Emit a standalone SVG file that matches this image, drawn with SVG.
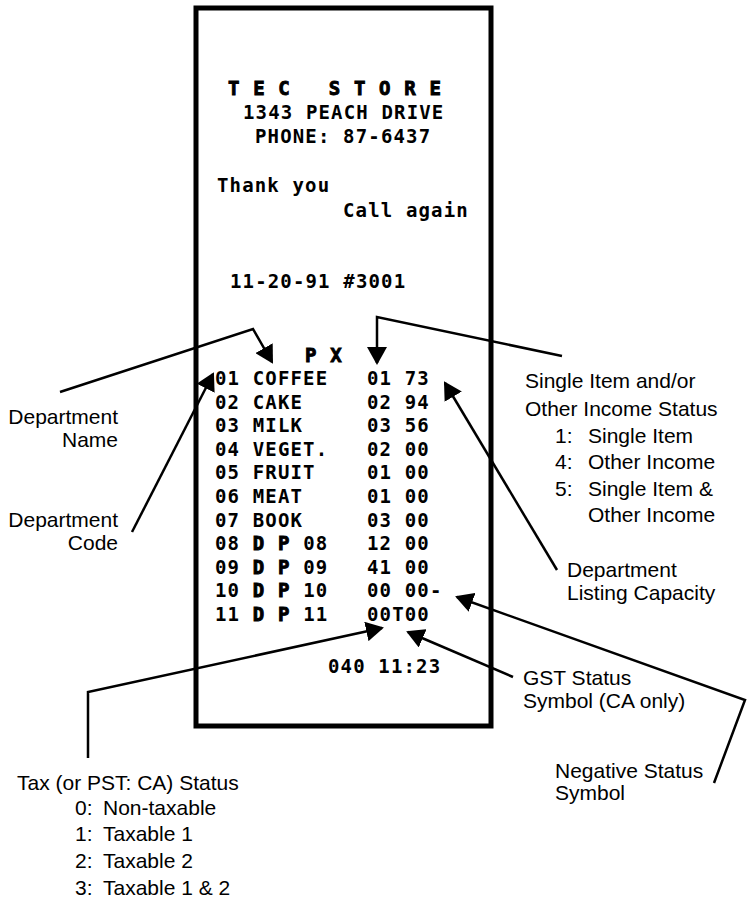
<svg xmlns="http://www.w3.org/2000/svg" width="751" height="901" viewBox="0 0 751 901">
<style>
.r{font-family:"DejaVu Sans Mono","Liberation Mono",monospace;font-weight:bold;font-size:19px;letter-spacing:1.15px;white-space:pre;fill:#000}
.hb{stroke:#000;stroke-width:0.9}
.l{font-family:"Liberation Sans",Arial,sans-serif;font-size:21px;fill:#000;white-space:pre}
.e{text-anchor:end}
.c{fill:none;stroke:#000;stroke-width:2.5;stroke-linejoin:miter}
.box{fill:none;stroke:#000;stroke-width:5}
</style>
<defs>
<marker id="ah" markerUnits="userSpaceOnUse" markerWidth="18" markerHeight="20" viewBox="0 0 18 20" refX="16" refY="10" orient="auto"><path d="M0,0 L18,10 L0,20 Z" fill="#000"/></marker>
</defs>
<rect width="751" height="901" fill="#fff"/>
<g id="receipt">
<rect class="box" x="196" y="8" width="295" height="718"/>
<text class="r hb" x="228" y="95">T E C   S T O R E</text>
<text class="r" x="243" y="119">1343 PEACH DRIVE</text>
<text class="r" x="255" y="143">PHONE: 87-6437</text>
<text class="r" x="217" y="192">Thank you</text>
<text class="r" x="343" y="217">Call again</text>
<text class="r" x="230" y="288">11-20-91 #3001</text>
<text class="r hb" x="305" y="362">P X</text>
<text class="r" x="215" y="385">01 COFFEE</text><text class="r" x="367" y="385">01 73</text>
<text class="r" x="215" y="409">02 CAKE</text><text class="r" x="367" y="409">02 94</text>
<text class="r" x="215" y="432">03 MILK</text><text class="r" x="367" y="432">03 56</text>
<text class="r" x="215" y="456">04 VEGET.</text><text class="r" x="367" y="456">02 00</text>
<text class="r" x="215" y="479">05 FRUIT</text><text class="r" x="367" y="479">01 00</text>
<text class="r" x="215" y="503">06 MEAT</text><text class="r" x="367" y="503">01 00</text>
<text class="r" x="215" y="527">07 BOOK</text><text class="r" x="367" y="527">03 00</text>
<text class="r" x="215" y="550">08 <tspan class="hb">D P</tspan> 08</text><text class="r" x="367" y="550">12 00</text>
<text class="r" x="215" y="574">09 <tspan class="hb">D P</tspan> 09</text><text class="r" x="367" y="574">41 00</text>
<text class="r" x="215" y="597">10 <tspan class="hb">D P</tspan> 10</text><text class="r" x="367" y="597">00 00-</text>
<text class="r" x="215" y="621">11 <tspan class="hb">D P</tspan> 11</text><text class="r" x="367" y="621">00T00</text>
<text class="r" x="328" y="673">040 11:23</text>
</g>
<g id="connectors">
<polyline class="c" points="60,392 253,329 272,362" marker-end="url(#ah)"/>
<polyline class="c" points="132,532 213,374" marker-end="url(#ah)"/>
<polyline class="c" points="562,356 377,317 377,363" marker-end="url(#ah)"/>
<polyline class="c" points="557,570 445,383" marker-end="url(#ah)"/>
<polyline class="c" points="714,783 745,700 457,597" marker-end="url(#ah)"/>
<polyline class="c" points="513,677 408,632" marker-end="url(#ah)"/>
<polyline class="c" points="88,758 88,692 382,628" marker-end="url(#ah)"/>
</g>
<g id="label-dept-name">
<text class="l e" x="118" y="424">Department</text>
<text class="l e" x="118" y="447">Name</text>
</g>
<g id="label-dept-code">
<text class="l e" x="118" y="527">Department</text>
<text class="l e" x="118" y="550">Code</text>
</g>
<g id="label-single-item">
<text class="l" x="525" y="388">Single Item and/or</text>
<text class="l" x="525" y="416">Other Income Status</text>
<text class="l" x="555" y="443">1:</text><text class="l" x="588" y="443">Single Item</text>
<text class="l" x="555" y="469">4:</text><text class="l" x="588" y="469">Other Income</text>
<text class="l" x="555" y="496">5:</text><text class="l" x="588" y="496">Single Item &amp;</text>
<text class="l" x="588" y="522">Other Income</text>
</g>
<g id="label-listing">
<text class="l" x="567" y="577">Department</text>
<text class="l" x="567" y="600">Listing Capacity</text>
</g>
<g id="label-gst">
<text class="l" x="523" y="685">GST Status</text>
<text class="l" x="523" y="708">Symbol (CA only)</text>
</g>
<g id="label-negative">
<text class="l" x="555" y="778">Negative Status</text>
<text class="l" x="555" y="800">Symbol</text>
</g>
<g id="label-tax">
<text class="l" x="17" y="790">Tax (or PST: CA) Status</text>
<text class="l" x="75" y="815">0:</text><text class="l" x="103" y="815">Non-taxable</text>
<text class="l" x="75" y="841">1:</text><text class="l" x="103" y="841">Taxable 1</text>
<text class="l" x="75" y="868">2:</text><text class="l" x="103" y="868">Taxable 2</text>
<text class="l" x="75" y="895">3:</text><text class="l" x="103" y="895">Taxable 1 &amp; 2</text>
</g>
</svg>
